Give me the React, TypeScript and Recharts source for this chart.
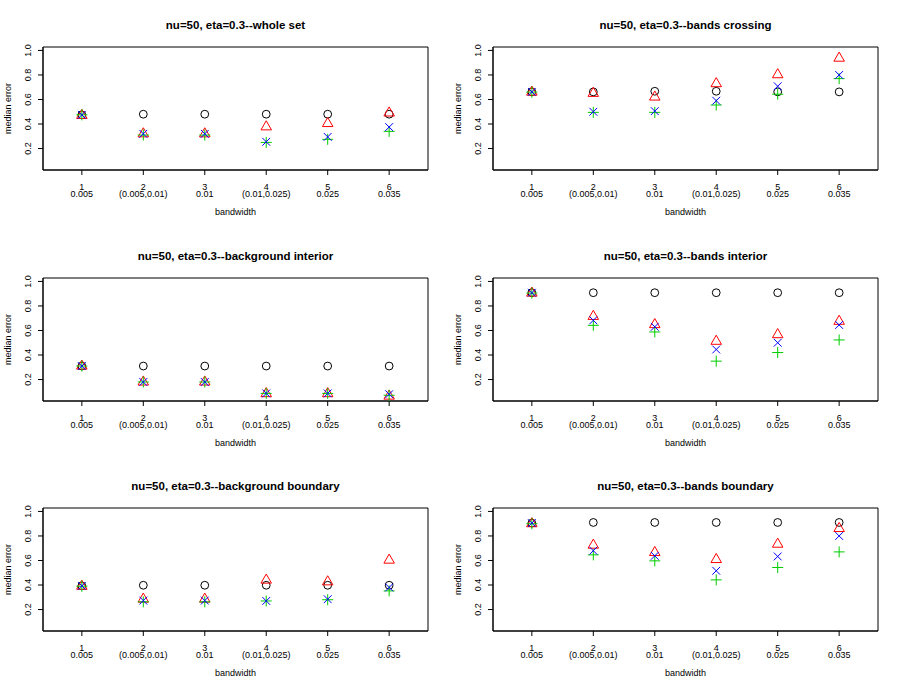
import { ScatterChart, Scatter, XAxis, YAxis, ReferenceArea } from 'recharts';

const bandIndex = [1, 2, 3, 4, 5, 6];
const bandwidthLabels = ['0.005', '(0.005,0.01)', '0.01', '(0.01,0.025)', '0.025', '0.035'];
const yTicks = [0.2, 0.4, 0.6, 0.8, 1.0];

// rows: circle, triangle, plus, cross
const wholeSet = [
  [0.475, 0.48, 0.48, 0.48, 0.48, 0.48],
  [0.47, 0.32, 0.32, 0.377, 0.404, 0.49],
  [0.475, 0.31, 0.31, 0.25, 0.275, 0.34],
  [0.475, 0.32, 0.32, 0.255, 0.295, 0.375],
];
const bandsCrossing = [
  [0.662, 0.662, 0.667, 0.667, 0.662, 0.662],
  [0.66, 0.65, 0.62, 0.729, 0.802, 0.937],
  [0.66, 0.495, 0.495, 0.555, 0.643, 0.77],
  [0.662, 0.5, 0.505, 0.59, 0.708, 0.8],
];
const backgroundInterior = [
  [0.31, 0.31, 0.31, 0.31, 0.31, 0.31],
  [0.31, 0.18, 0.18, 0.085, 0.085, 0.065],
  [0.31, 0.18, 0.18, 0.087, 0.087, 0.072],
  [0.31, 0.18, 0.18, 0.087, 0.087, 0.08],
];
const bandsInterior = [
  [0.908, 0.908, 0.908, 0.908, 0.908, 0.908],
  [0.905, 0.715, 0.648, 0.512, 0.566, 0.675],
  [0.905, 0.642, 0.588, 0.35, 0.42, 0.523],
  [0.908, 0.683, 0.63, 0.445, 0.5, 0.645],
];
const backgroundBoundary = [
  [0.393, 0.398, 0.398, 0.398, 0.398, 0.398],
  [0.39, 0.285, 0.285, 0.44, 0.426, 0.603],
  [0.39, 0.263, 0.263, 0.27, 0.28, 0.352],
  [0.393, 0.273, 0.273, 0.27, 0.284, 0.38],
];
const bandsBoundary = [
  [0.905, 0.91, 0.91, 0.91, 0.91, 0.91],
  [0.9, 0.725, 0.665, 0.608, 0.733, 0.861],
  [0.9, 0.646, 0.597, 0.442, 0.543, 0.67],
  [0.905, 0.68, 0.638, 0.516, 0.633, 0.8],
];

const panels = [
  { title: 'nu=50, eta=0.3--whole set', values: wholeSet },
  { title: 'nu=50, eta=0.3--bands crossing', values: bandsCrossing },
  { title: 'nu=50, eta=0.3--background interior', values: backgroundInterior },
  { title: 'nu=50, eta=0.3--bands interior', values: bandsInterior },
  { title: 'nu=50, eta=0.3--background boundary', values: backgroundBoundary },
  { title: 'nu=50, eta=0.3--bands boundary', values: bandsBoundary },
];

const X_DOMAIN = [0.368, 6.632];
const Y_DOMAIN = [0.025, 1.028];
const FONT = '"Liberation Sans", Arial, Helvetica, sans-serif';
const R = 3.9;

const CircleMark = ({ cx, cy }: any) => (
  <circle cx={cx} cy={cy} r={R} fill="none" stroke="#000" strokeWidth={1} />
);
const TriangleMark = ({ cx, cy }: any) => {
  const top = 1.555 * R, base = 0.778 * R, half = 1.347 * R;
  return (
    <polygon
      points={`${cx},${cy - top} ${cx + half},${cy + base} ${cx - half},${cy + base}`}
      fill="none" stroke="#ff0000" strokeWidth={1}
    />
  );
};
const PlusMark = ({ cx, cy }: any) => {
  const h = Math.SQRT2 * R;
  return (
    <path d={`M${cx - h},${cy}H${cx + h}M${cx},${cy - h}V${cy + h}`} stroke="#00cd00" strokeWidth={1} fill="none" />
  );
};
const CrossMark = ({ cx, cy }: any) => (
  <path d={`M${cx - R},${cy - R}L${cx + R},${cy + R}M${cx - R},${cy + R}L${cx + R},${cy - R}`} stroke="#0000ff" strokeWidth={1} fill="none" />
);
const shapes = [CircleMark, TriangleMark, PlusMark, CrossMark];

const XTick = ({ x, y, payload, index }: any) => (
  <g fontFamily={FONT} fontSize={9} fill="#000">
    <text x={x} y={y + 15} textAnchor="middle">{payload.value}</text>
    <text x={x} y={y + 21.7} textAnchor="middle">{bandwidthLabels[index]}</text>
  </g>
);

const YTick = ({ x, y, payload }: any) => (
  <text
    transform={`translate(${x - 10},${y}) rotate(-90)`}
    textAnchor="middle" dy="0.35em" fontFamily={FONT} fontSize={9} fill="#000"
  >
    {payload.value.toFixed(1)}
  </text>
);

function Panel({ title, values }: { title: string; values: number[][] }) {
  return (
    <ScatterChart width={450} height={230} margin={{ top: 47, right: 22, bottom: 0, left: 0 }}>
      <XAxis
        type="number" dataKey="x" domain={X_DOMAIN} ticks={bandIndex} interval={0}
        tick={<XTick />} tickSize={5} tickMargin={0} height={60}
        axisLine={{ stroke: '#000' }} tickLine={{ stroke: '#000' }}
        allowDataOverflow
        label={{
          content: ({ viewBox }: any) => (
            <text x={viewBox.x + viewBox.width / 2} y={viewBox.y + 45} textAnchor="middle" fontFamily={FONT} fontSize={9} fill="#000">
              bandwidth
            </text>
          ),
        }}
      />
      <YAxis
        type="number" dataKey="y" domain={Y_DOMAIN} ticks={yTicks} interval={0}
        tick={<YTick />} tickSize={5} tickMargin={0} width={43}
        axisLine={{ stroke: '#000' }} tickLine={{ stroke: '#000' }}
        allowDataOverflow
        label={{
          content: ({ viewBox }: any) => (
            <text
              transform={`translate(${viewBox.x + 8},${viewBox.y + viewBox.height / 2}) rotate(-90)`}
              textAnchor="middle" dy="0.35em" fontFamily={FONT} fontSize={9} fill="#000"
            >
              median error
            </text>
          ),
        }}
      />
      <ReferenceArea
        x1={X_DOMAIN[0]} x2={X_DOMAIN[1]} y1={Y_DOMAIN[0]} y2={Y_DOMAIN[1]}
        fill="none" fillOpacity={0} stroke="#000" strokeWidth={1} strokeOpacity={1} ifOverflow="visible"
        label={{
          content: ({ viewBox }: any) => (
            <text x={viewBox.x + viewBox.width / 2} y={viewBox.y - 18.5} textAnchor="middle" fontFamily={FONT} fontSize={11.5} fontWeight="bold" fill="#000">
              {title}
            </text>
          ),
        }}
      />
      {values.map((series, s) => (
        <Scatter
          key={s}
          data={bandIndex.map((b, i) => ({ x: b, y: series[i] }))}
          shape={shapes[s]}
          isAnimationActive={false}
        />
      ))}
    </ScatterChart>
  );
}

export default function App() {
  return (
    <div style={{ position: 'absolute', left: 0, top: 0, width: 900, height: 692, background: '#fff' }}>
      {panels.map((p, i) => (
        <div
          key={p.title}
          style={{ position: 'absolute', left: (i % 2) * 450, top: Math.round(Math.floor(i / 2) * (692 / 3)) }}
        >
          <Panel title={p.title} values={p.values} />
        </div>
      ))}
    </div>
  );
}
